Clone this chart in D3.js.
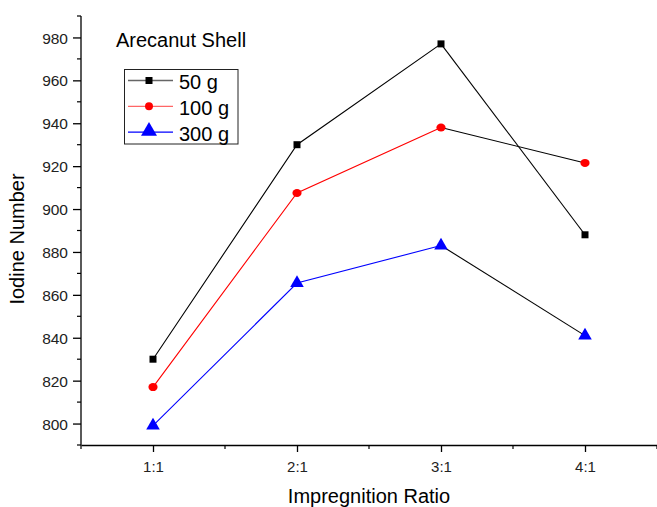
<!DOCTYPE html>
<html>
<head>
<meta charset="UTF-8">
<title>Arecanut Shell</title>
<script src="https://d3js.org/d3.v7.min.js"></script>
<style>
  body { margin: 0; background: #fff; }
  svg { display: block; font-family: "Liberation Sans", Arial, sans-serif; }
</style>
</head>
<body>
<svg width="657" height="507"></svg>
<script>
const ratios = ["1:1", "2:1", "3:1", "4:1"];
const seriesNames = ["50 g", "100 g", "300 g"];
const values50 = [830, 930, 977, 888];
const values100 = [817, 907.5, 938, 921.5];
const values300 = [799, 865.5, 883, 841];
const yTicks = [800, 820, 840, 860, 880, 900, 920, 940, 960, 980];

const colors = ["#000000", "#ff0000", "#0000ff"];
const legendLineColors = ["#666666", "#ff6666", "#0000ff"];
const symbols = [d3.symbolSquare, d3.symbolCircle, d3.symbolTriangle];
const symbolSizes = [49, 50, 80];
const allSeries = [values50, values100, values300];

const svg = d3.select("svg");
const plotL = 81, plotR = 657, plotT = 16, plotB = 445;

const x = d3.scaleLinear().domain([0.5, 4.5]).range([plotL, plotR]);
const y = d3.scaleLinear().domain([790, 990]).range([plotB, plotT]);

// axes
const xAxis = d3.axisBottom(x)
  .tickValues([1, 2, 3, 4])
  .tickFormat((d, i) => ratios[i])
  .tickSize(7).tickSizeOuter(0);
const gx = svg.append("g").attr("transform", `translate(0,${plotB})`).call(xAxis)
  .attr("font-family", null).attr("font-size", null);
gx.selectAll(".tick text").attr("font-size", 15).attr("y", 27).attr("dy", null).attr("fill", "#222");
gx.selectAll("line, path").attr("stroke", "#000").attr("stroke-width", 1.3);
gx.selectAll(".minor").data([0.5, 1.5, 2.5, 3.5, 4.5]).enter().append("line")
  .attr("x1", d => x(d)).attr("x2", d => x(d)).attr("y1", 0).attr("y2", 4)
  .attr("stroke", "#000").attr("stroke-width", 1.2);

const yAxis = d3.axisLeft(y).tickValues(yTicks).tickSize(8).tickSizeOuter(0);
const gy = svg.append("g").attr("transform", `translate(${plotL},0)`).call(yAxis)
  .attr("font-family", null).attr("font-size", null);
gy.selectAll(".tick text").attr("font-size", 15.5).attr("fill", "#222").attr("x", -13).attr("dy", "0.36em");
gy.selectAll("line, path").attr("stroke", "#000").attr("stroke-width", 1.3);
gy.select(".domain").attr("d", `M0,${plotB}V${plotT}`);
gy.selectAll(".minor").data(d3.range(790, 991, 20)).enter().append("line")
  .attr("x1", -4).attr("x2", 0).attr("y1", d => y(d)).attr("y2", d => y(d))
  .attr("stroke", "#000").attr("stroke-width", 1.2);

// axis titles
svg.append("text").attr("x", (plotL + plotR) / 2).attr("y", 503)
  .attr("text-anchor", "middle").attr("font-size", 20).text("Impregnition Ratio");
svg.append("text").attr("transform", "translate(24,239) rotate(-90)")
  .attr("text-anchor", "middle").attr("font-size", 20).text("Iodine Number");

// lines: first three points in series colour, last segment black
const line = d3.line().x((d, i) => x(i + 1)).y(d => y(d));
allSeries.forEach((vals, s) => {
  svg.append("path").attr("d", line(vals.slice(0, 3)))
    .attr("fill", "none").attr("stroke", colors[s]).attr("stroke-width", 1.1);
  svg.append("path")
    .attr("d", d3.line().x((d, i) => x(i + 3)).y(d => y(d))(vals.slice(2)))
    .attr("fill", "none").attr("stroke", "#000").attr("stroke-width", 1.1);
});

// markers
allSeries.forEach((vals, s) => {
  svg.append("g").selectAll("path").data(vals).enter().append("path")
    .attr("d", d3.symbol().type(symbols[s]).size(symbolSizes[s]))
    .attr("transform", (d, i) => `translate(${x(i + 1)},${y(d)})` + (s === 1 ? " scale(1.15,1)" : ""))
    .attr("fill", colors[s]);
});

// title
svg.append("text").attr("x", 116).attr("y", 47).attr("font-size", 20).text("Arecanut Shell");

// legend
const lg = svg.append("g");
lg.append("rect").attr("x", 124.5).attr("y", 69.5).attr("width", 113.5).attr("height", 74.5)
  .attr("fill", "#fff").attr("stroke", "#222").attr("stroke-width", 1);
seriesNames.forEach((name, s) => {
  const cy = 80.5 + s * 25.8;
  lg.append("line").attr("x1", 128).attr("x2", 173).attr("y1", cy).attr("y2", cy)
    .attr("stroke", legendLineColors[s]).attr("stroke-width", 1.3);
  lg.append("path").attr("d", d3.symbol().type(symbols[s]).size(s === 2 ? 110 : symbolSizes[s]))
    .attr("transform", `translate(149,${cy - (s === 2 ? 1 : 0)})`).attr("fill", colors[s]);
  lg.append("text").attr("x", 179).attr("y", cy + 8.5).attr("font-size", 20).text(name);
});
</script>
</body>
</html>
